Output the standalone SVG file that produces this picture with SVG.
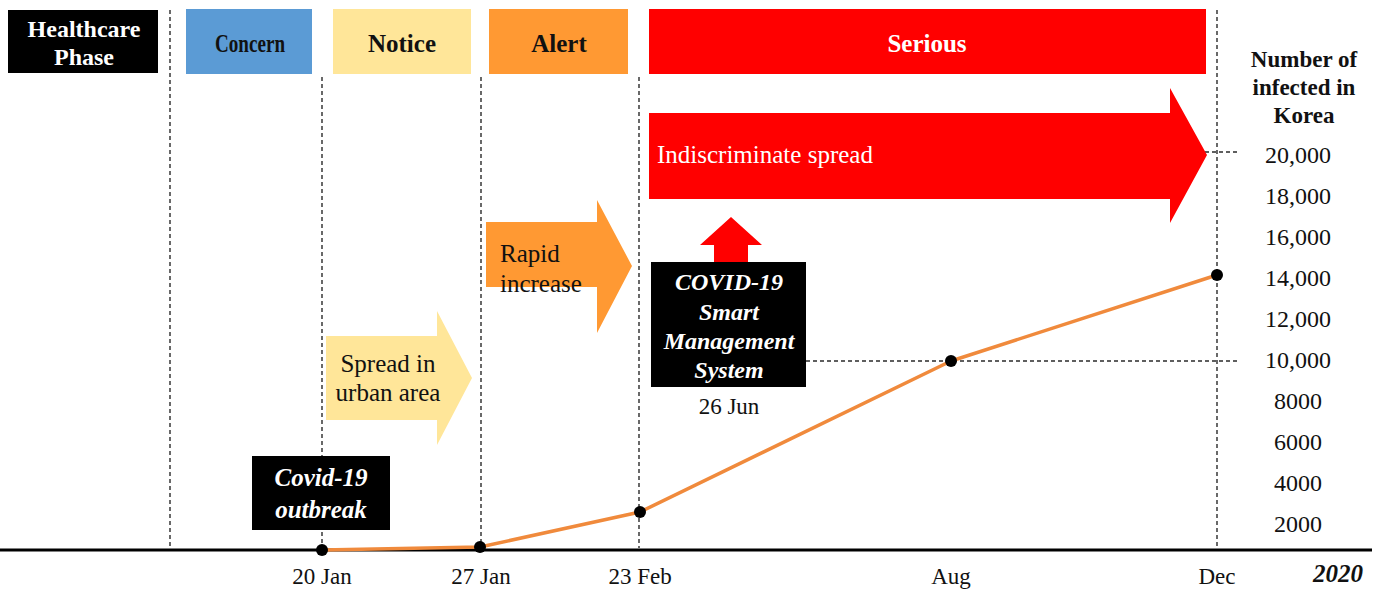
<svg xmlns="http://www.w3.org/2000/svg" width="1381" height="590" viewBox="0 0 1381 590">
  <style>
    .t { font-family: "Liberation Serif", "Times New Roman", serif; }
    .b { font-weight: bold; }
    .i { font-style: italic; }
    .w { fill: #ffffff; }
    .k { fill: #111111; }
    .guide { stroke: #2a2a2a; stroke-width: 1.4; stroke-dasharray: 4 3; fill: none; }
    .tick { font-size: 23px; text-anchor: middle; }
    .val { font-size: 24px; text-anchor: middle; }
    .dot { fill: #000000; }
  </style>

  <rect width="1381" height="590" fill="#ffffff"/>

  <!-- phase separators and reference lines -->
  <g id="connectors">
    <line class="guide" x1="170" y1="10" x2="170" y2="548"/>
    <line class="guide" x1="322" y1="77" x2="322" y2="548"/>
    <line class="guide" x1="481" y1="77" x2="481" y2="548"/>
    <line class="guide" x1="639" y1="77" x2="639" y2="548"/>
    <line class="guide" x1="1217" y1="10" x2="1217" y2="548"/>
    <line class="guide" x1="1205" y1="152" x2="1238" y2="152"/>
    <line class="guide" x1="806" y1="361" x2="1238" y2="361"/>
    <!-- time axis -->
    <line x1="0" y1="550" x2="1372" y2="550" stroke="#000000" stroke-width="3"/>
    <!-- case count curve -->
    <polyline points="322,550 480,547 640,512 951,361 1217,275" fill="none" stroke="#F08A3C" stroke-width="3.5" stroke-linejoin="round"/>
  </g>

  <!-- header row -->
  <g id="phase-label">
    <rect x="8" y="10" width="150" height="63" fill="#000000"/>
    <text class="t b w" x="84" y="37" font-size="24" text-anchor="middle">Healthcare</text>
    <text class="t b w" x="84" y="65" font-size="24" text-anchor="middle">Phase</text>
  </g>
  <g id="phase-concern">
    <rect x="186" y="9" width="126" height="65" fill="#5B9BD5"/>
    <text class="t b k" x="250" y="52" font-size="25" text-anchor="middle" textLength="70" lengthAdjust="spacingAndGlyphs">Concern</text>
  </g>
  <g id="phase-notice">
    <rect x="333" y="9" width="138" height="65" fill="#FFE699"/>
    <text class="t b k" x="402" y="52" font-size="25" text-anchor="middle">Notice</text>
  </g>
  <g id="phase-alert">
    <rect x="489" y="9" width="139" height="65" fill="#FF9933"/>
    <text class="t b k" x="559" y="52" font-size="25" text-anchor="middle">Alert</text>
  </g>
  <g id="phase-serious">
    <rect x="649" y="9" width="557" height="65" fill="#FF0000"/>
    <text class="t b w" x="927" y="52" font-size="25" text-anchor="middle">Serious</text>
  </g>

  <!-- spread stages -->
  <g id="stage-urban">
    <polygon points="326,336 437,336 437,311 472,378 437,445 437,420 326,420" fill="#FFE699"/>
    <text class="t k" x="388" y="372" font-size="25" text-anchor="middle">Spread in</text>
    <text class="t k" x="388" y="401" font-size="25" text-anchor="middle">urban area</text>
  </g>
  <g id="stage-rapid">
    <polygon points="486,222 597,222 597,200 632,266 597,333 597,287 486,287" fill="#FF9933"/>
    <text class="t k" x="500" y="262" font-size="25">Rapid</text>
    <text class="t k" x="500" y="292" font-size="25">increase</text>
  </g>
  <g id="stage-indiscriminate">
    <polygon points="649,113 1170,113 1170,88 1207,155 1170,223 1170,199 649,199" fill="#FF0000"/>
    <text class="t w" x="657" y="163" font-size="25">Indiscriminate spread</text>
  </g>

  <!-- events -->
  <g id="event-outbreak">
    <rect x="252" y="456" width="138" height="74" fill="#000000"/>
    <text class="t b i w" x="321" y="486" font-size="25" text-anchor="middle">Covid-19</text>
    <text class="t b i w" x="321" y="518" font-size="25" text-anchor="middle">outbreak</text>
  </g>
  <g id="event-smart-system">
    <polygon points="714,262 714,245 700,245 731,217 762,245 748,245 748,262" fill="#FF0000"/>
    <rect x="651" y="262" width="155" height="125" fill="#000000"/>
    <text class="t b i w" x="729" y="290" font-size="24" text-anchor="middle">COVID-19</text>
    <text class="t b i w" x="729" y="320" font-size="24" text-anchor="middle">Smart</text>
    <text class="t b i w" x="729" y="349" font-size="24" text-anchor="middle">Management</text>
    <text class="t b i w" x="729" y="378" font-size="24" text-anchor="middle">System</text>
    <text class="t k" x="729" y="414" font-size="23" text-anchor="middle">26 Jun</text>
  </g>

  <!-- data points -->
  <g id="points">
    <circle class="dot" cx="322" cy="550" r="6"/>
    <circle class="dot" cx="480" cy="547" r="6"/>
    <circle class="dot" cx="640" cy="512" r="6"/>
    <circle class="dot" cx="951" cy="361" r="6"/>
    <circle class="dot" cx="1217" cy="275" r="6"/>
  </g>

  <!-- time labels -->
  <g id="x-axis-labels" class="t k">
    <text class="tick" x="322" y="584">20 Jan</text>
    <text class="tick" x="481" y="584">27 Jan</text>
    <text class="tick" x="640" y="584">23 Feb</text>
    <text class="tick" x="951" y="584">Aug</text>
    <text class="tick" x="1217" y="584">Dec</text>
    <text class="b i" x="1338" y="582" font-size="25" text-anchor="middle">2020</text>
  </g>

  <!-- count scale -->
  <g id="y-axis" class="t k">
    <text class="b" x="1304" y="67" font-size="23" text-anchor="middle">Number of</text>
    <text class="b" x="1304" y="95" font-size="23" text-anchor="middle">infected in</text>
    <text class="b" x="1304" y="123" font-size="23" text-anchor="middle">Korea</text>
    <text class="val" x="1298" y="163">20,000</text>
    <text class="val" x="1298" y="204">18,000</text>
    <text class="val" x="1298" y="245">16,000</text>
    <text class="val" x="1298" y="286">14,000</text>
    <text class="val" x="1298" y="327">12,000</text>
    <text class="val" x="1298" y="368">10,000</text>
    <text class="val" x="1298" y="409">8000</text>
    <text class="val" x="1298" y="450">6000</text>
    <text class="val" x="1298" y="491">4000</text>
    <text class="val" x="1298" y="532">2000</text>
  </g>
</svg>
